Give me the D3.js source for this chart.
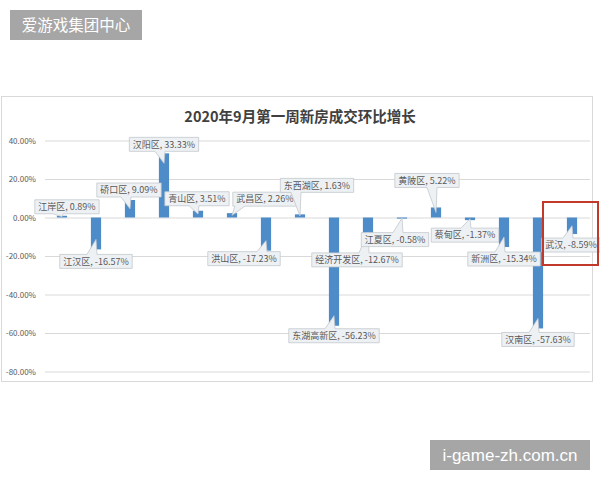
<!DOCTYPE html>
<html>
<head>
<meta charset="utf-8">
<script src="https://cdn.jsdelivr.net/npm/d3@7"></script>
<style>
  html, body { margin: 0; padding: 0; background: #ffffff; }
  svg { display: block; }
</style>
</head>
<body>
<svg id="chart" width="600" height="480"></svg>
<script>
// ---- data ----
const districts = ["江岸区","江汉区","硚口区","汉阳区","青山区","武昌区","洪山区","东西湖区","东湖高新区","经济开发区","江夏区","黄陂区","蔡甸区","新洲区","汉南区","武汉"];
const growth = [0.89,-16.57,9.09,33.33,3.51,2.26,-17.23,1.63,-56.23,-12.67,-0.58,5.22,-1.37,-15.34,-57.63,-8.59];
const tickValues = [40,20,0,-20,-40,-60,-80];
const chartTitle = "2020年9月第一周新房成交环比增长";
const watermarkTop = "爱游戏集团中心";
const watermarkBottom = "i-game-zh.com.cn";
const highlighted = "武汉";

// ---- layout (label offsets in px, relative to bar end) ----
const labelOffsets = [[5,-9],[0,12],[-1,-10],[0,-9],[-1,-12],[33,-14],[-22,8],[17,-29],[0,10],[-11,18],[-7,21],[-9,-27],[-5,15],[0,12],[0,11],[-1,11]];

const svg = d3.select("#chart");
const font = "'Noto Sans CJK SC', 'Noto Sans', sans-serif";

// watermarks
svg.append("rect").attr("x",10).attr("y",10).attr("width",132).attr("height",30).attr("fill","#a6a6a6");
svg.append("text").attr("x",76).attr("y",25).attr("dy","0.36em").attr("text-anchor","middle")
  .attr("font-family",font).attr("font-size",15.5).attr("fill","#ffffff").text(watermarkTop);

// chart frame
svg.append("rect").attr("x",1.5).attr("y",96.5).attr("width",591).attr("height",285)
  .attr("fill","#ffffff").attr("stroke","#d9d9d9").attr("stroke-width",1);

// title
svg.append("text").attr("x",300).attr("y",117).attr("dy","0.36em").attr("text-anchor","middle")
  .attr("font-family",font).attr("font-size",14.5).attr("font-weight","bold").attr("fill","#404040")
  .text(chartTitle);

const x = d3.scaleBand().domain(districts).range([45,589]).paddingInner(0.7).paddingOuter(0.35);
const y = d3.scaleLinear().domain([-80,40]).range([371.5,140.5]);

// axis + gridlines
const axis = svg.append("g").attr("transform","translate(45,0)")
  .call(d3.axisLeft(y).tickValues(tickValues).tickSize(-545).tickPadding(9)
    .tickFormat(d => d.toFixed(2) + "%"));
axis.select(".domain").remove();
axis.selectAll(".tick line").attr("stroke","#d9d9d9").attr("stroke-width",1);
axis.selectAll(".tick text").attr("font-family",font).attr("font-size",8).attr("fill","#595959");

// bars
svg.append("g").selectAll("rect").data(districts).join("rect")
  .attr("x", d => x(d))
  .attr("width", x.bandwidth())
  .attr("y", (d,i) => Math.min(y(growth[i]), y(0)))
  .attr("height", (d,i) => Math.abs(y(growth[i]) - y(0)))
  .attr("fill","#4d8cc8");

// callout labels
const lg = svg.append("g");
districts.forEach((d,i) => {
  const v = growth[i];
  const cx = x(d) + x.bandwidth()/2;
  const endY = y(v);
  const h = Math.abs(endY - y(0));
  const inset = Math.min(10, h*0.5);
  const tx = cx, ty = endY + (v >= 0 ? inset : -inset);
  const [dx,dy] = labelOffsets[i];
  const bcx = cx + dx, bcy = endY + dy;
  const g = lg.append("g");
  const path = g.append("path");
  const t = g.append("text").attr("x",bcx).attr("y",bcy).attr("dy","0.36em").attr("text-anchor","middle")
    .attr("font-family",font).attr("font-size",9).attr("fill","#595959")
    .text(`${d}, ${v.toFixed(2)}%`);
  const w = t.node().getComputedTextLength() + 7;
  const hh = 14;
  const L = bcx - w/2, R = bcx + w/2, T = bcy - hh/2, B = bcy + hh/2;
  const clamp = (a,lo,hi) => Math.max(lo, Math.min(hi, a));
  let pts;
  if (ty > B) {
    const bx = clamp(tx - 4, L+7, R-7);
    pts = [[L,T],[R,T],[R,B],[bx+5,B],[tx,ty],[bx-5,B],[L,B]];
  } else if (ty < T) {
    const bx = clamp(tx - 4, L+7, R-7);
    pts = [[L,T],[bx-5,T],[tx,ty],[bx+5,T],[R,T],[R,B],[L,B]];
  } else if (tx < L) {
    const by = clamp(ty, T+4, B-4);
    pts = [[L,T],[R,T],[R,B],[L,B],[L,by+3],[tx,ty],[L,by-3]];
  } else {
    const by = clamp(ty, T+4, B-4);
    pts = [[L,T],[R,T],[R,by-3],[tx,ty],[R,by+3],[R,B],[L,B]];
  }
  path.attr("d", "M" + pts.map(p => p.join(",")).join("L") + "Z")
    .attr("fill","#eef1f4").attr("stroke","#c3c8cd").attr("stroke-width",0.8);
});

// highlight box around 武汉
const hx = x(highlighted) + x.bandwidth()/2;
svg.append("rect").attr("x", hx - 29).attr("y",202).attr("width",55).attr("height",63)
  .attr("fill","none").attr("stroke","#c0392b").attr("stroke-width",2);

// bottom watermark
svg.append("rect").attr("x",430).attr("y",440).attr("width",160).attr("height",30).attr("fill","#a6a6a6");
svg.append("text").attr("x",510).attr("y",455).attr("dy","0.36em").attr("text-anchor","middle")
  .attr("font-family","'Liberation Sans', Arial, sans-serif").attr("font-size",17).attr("fill","#ffffff").text(watermarkBottom);
</script>
</body>
</html>
